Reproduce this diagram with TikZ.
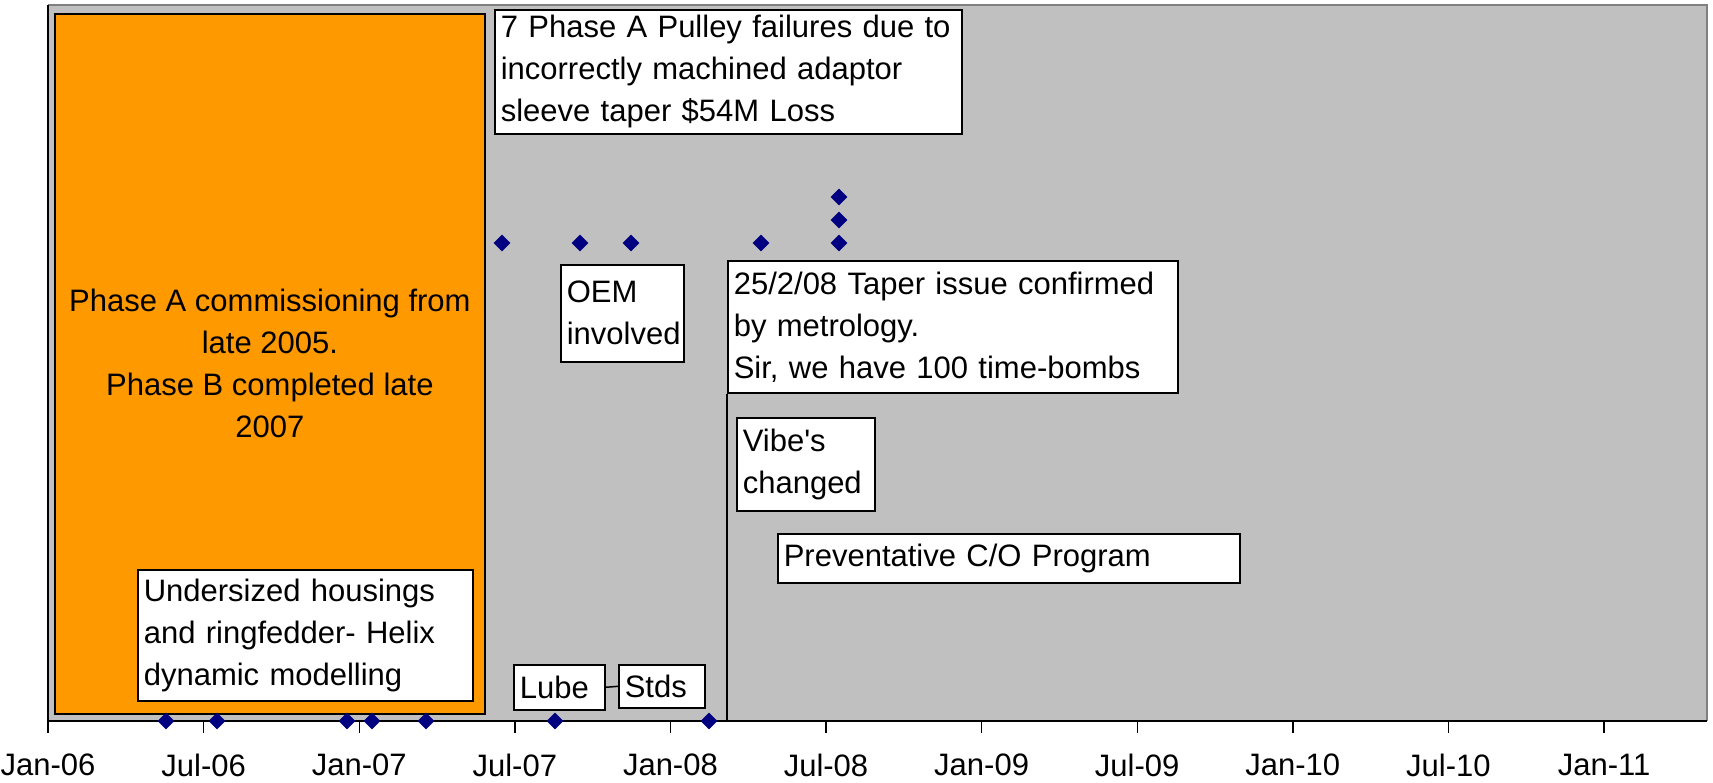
\documentclass[tikz,border=0pt]{standalone}
\usepackage{fontspec}
\setmainfont{Liberation Sans}
\usetikzlibrary{shapes.geometric}
\definecolor{plotgray}{HTML}{C0C0C0}
\definecolor{framegray}{HTML}{808080}
\definecolor{phaseorange}{HTML}{FF9900}
\definecolor{navydot}{HTML}{000080}
\newcommand{\lblfont}{\fontsize{31}{42}\selectfont}
\begin{document}
\begin{tikzpicture}[x=1pt,y=-1pt,
  tbox/.style={draw=black, line width=1.6pt, fill=white, anchor=north west, align=left, inner xsep=6pt, inner ysep=0pt, font=\lblfont},
  diam/.style={diamond, fill=navydot, draw=none, minimum size=17pt, inner sep=0pt},
  axlabel/.style={font=\lblfont, inner sep=0pt},
  tickline/.style={black, line width=1.4pt},
  conn/.style={black, line width=1.5pt}]
\useasboundingbox (0,0) rectangle (1713,783);
\fill[white] (0,0) rectangle (1713,783);
% plot area
\fill[plotgray] (48,5) rectangle (1707,721);
\draw[framegray, line width=2.2pt] (48,5) -- (1707,5) -- (1707,721);
\draw[black, line width=1.5pt] (48,5) -- (48,721);
\draw[black, line width=1.5pt] (48,721) -- (1707,721);
% ticks and labels
\foreach \i/\t in {0/Jan-06,1/Jul-06,2/Jan-07,3/Jul-07,4/Jan-08,5/Jul-08,6/Jan-09,7/Jul-09,8/Jan-10,9/Jul-10,10/Jan-11}{
  \draw[tickline] ({48+155.6*\i},721) -- ({48+155.6*\i},733);
  \node[axlabel] (lab\i) at ({48+155.6*\i},765) {\t};
}
% orange phase block
\node[draw=black, line width=1.8pt, fill=phaseorange, minimum width=430pt, minimum height=700pt,
      anchor=north west, align=center, font=\lblfont, inner sep=0pt] (phase) at (54,13)
  {Phase A commissioning from\\late 2005.\\Phase B completed late\\2007};
% text boxes
\node[tbox, text width=455pt, minimum height=124pt] (fail) at (494,9)
  {7 Phase A Pulley failures due to\\incorrectly machined adaptor\\sleeve taper \$54M Loss};
\node[tbox, text width=111pt, minimum height=97pt] (oem) at (560,264)
  {OEM\\involved};
\node[tbox, text width=438pt, minimum height=132pt] (conf) at (727,260)
  {25/2/08 Taper issue confirmed\\by metrology.\\Sir, we have 100 time-bombs};
\node[tbox, text width=126pt, minimum height=93pt] (vibe) at (736,417)
  {Vibe\textquotesingle s\\changed};
\node[tbox, text width=450pt, minimum height=49pt] (prev) at (777,533)
  {Preventative C/O Program};
\node[tbox, text width=323pt, minimum height=131pt] (under) at (137,569)
  {Undersized housings\\and ringfedder- Helix\\dynamic modelling};
\node[tbox, text width=79pt, minimum height=45pt] (lube) at (513,664) {Lube};
\node[tbox, text width=74pt, minimum height=43pt] (stds) at (618,664) {Stds};
% connectors
\coordinate (axisbase) at (727,721);
\draw[conn] (conf.south west) -- (conf.south west |- axisbase);
\draw[conn] (lube.east) -- (stds.west);
% diamonds upper row
\node[diam] (t1) at (502,243) {};
\node[diam] (t2) at (580,243) {};
\node[diam] (t3) at (631,243) {};
\node[diam] (t4) at (761,243) {};
\node[diam] (t5) at (839,243) {};
\node[diam] (t6) at (839,220) {};
\node[diam] (t7) at (839,197) {};
% diamonds on axis
\node[diam] (b1) at (166,721) {};
\node[diam] (b2) at (217,721) {};
\node[diam] (b3) at (347,721) {};
\node[diam] (b4) at (372,721) {};
\node[diam] (b5) at (426,721) {};
\node[diam] (b6) at (555,721) {};
\node[diam] (b7) at (709,721) {};
\end{tikzpicture}
\end{document}
